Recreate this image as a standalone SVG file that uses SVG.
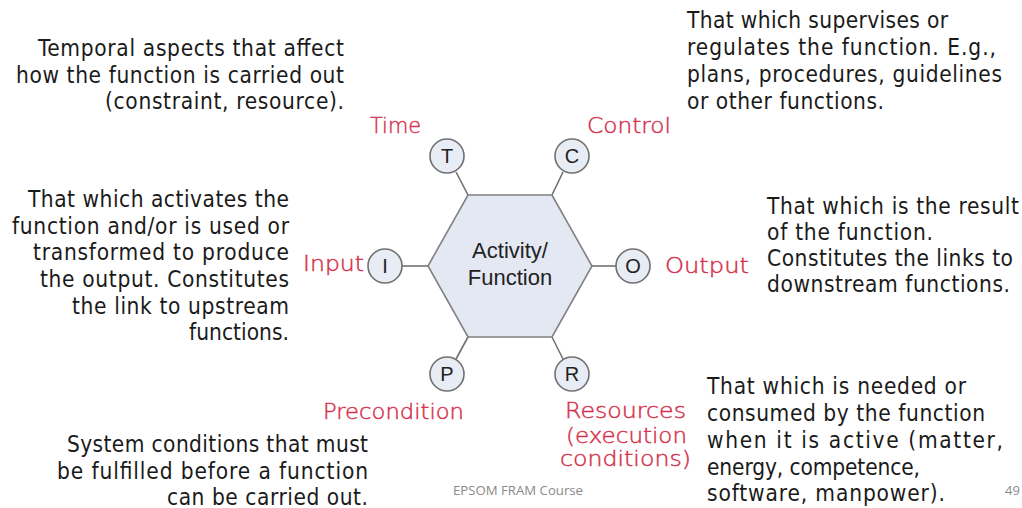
<svg xmlns="http://www.w3.org/2000/svg" width="1022" height="508" viewBox="0 0 1022 508">
  <style>
    .desc { font-family: "DejaVu Sans", "Liberation Sans", sans-serif; font-stretch: condensed; font-size: 22.5px; fill: #1a1a1a; }
    .r { text-anchor: end; }
    .hand { font-family: "DejaVu Sans", "Liberation Sans", sans-serif; font-weight: 200; font-size: 22px; fill: #d62f4b; stroke: #d62f4b; stroke-width: 0.45; }
    .hex { fill: #e3e8f3; stroke: #808080; stroke-width: 1.6; }
    .port { fill: #e8ecf5; stroke: #707070; stroke-width: 1.6; }
    .port-label { font-family: "Liberation Sans", Arial, sans-serif; font-size: 20px; fill: #222; text-anchor: middle; }
    .center-label { font-family: "Liberation Sans", Arial, sans-serif; font-size: 22px; fill: #222; text-anchor: middle; }
    .link { stroke: #707070; stroke-width: 1.6; fill: none; }
    .footer { font-family: "Open Sans", "Liberation Sans", sans-serif; font-size: 13px; fill: #8a8a8a; }
  </style>
  <rect width="1022" height="508" fill="#ffffff"/>

  <!-- connectors between the hexagon corners and the aspect ports -->
  <g id="connectors">
    <line class="link" x1="468" y1="195" x2="456" y2="172"/>
    <line class="link" x1="552" y1="195" x2="563" y2="172"/>
    <line class="link" x1="428" y1="266" x2="402" y2="266"/>
    <line class="link" x1="592" y1="266" x2="616" y2="266"/>
    <line class="link" x1="468" y1="337" x2="456" y2="359"/>
    <line class="link" x1="552" y1="337" x2="563" y2="359"/>
  </g>

  <!-- central function -->
  <g id="function">
    <polygon class="hex" points="468,195 552,195 592,266 552,337 468,337 428,266"/>
    <text class="center-label" x="510" y="258">Activity/</text>
    <text class="center-label" x="510" y="285">Function</text>
  </g>

  <!-- aspect ports -->
  <g id="port-time">
    <circle class="port" cx="447" cy="156" r="17"/>
    <text class="port-label" x="447" y="163">T</text>
    <text class="hand" x="370" y="133" textLength="51" lengthAdjust="spacingAndGlyphs">Time</text>
  </g>
  <g id="port-control">
    <circle class="port" cx="572" cy="156" r="17"/>
    <text class="port-label" x="572" y="163">C</text>
    <text class="hand" x="587" y="133" textLength="84" lengthAdjust="spacingAndGlyphs">Control</text>
  </g>
  <g id="port-input">
    <circle class="port" cx="385" cy="266" r="17"/>
    <text class="port-label" x="385" y="273">I</text>
    <text class="hand" x="303" y="271" textLength="61" lengthAdjust="spacingAndGlyphs">Input</text>
  </g>
  <g id="port-output">
    <circle class="port" cx="633" cy="266" r="17"/>
    <text class="port-label" x="633" y="273">O</text>
    <text class="hand" x="665" y="273" textLength="84" lengthAdjust="spacingAndGlyphs">Output</text>
  </g>
  <g id="port-precondition">
    <circle class="port" cx="447" cy="374" r="17"/>
    <text class="port-label" x="447" y="381">P</text>
    <text class="hand" x="323" y="419" textLength="141" lengthAdjust="spacingAndGlyphs">Precondition</text>
  </g>
  <g id="port-resources">
    <circle class="port" cx="572" cy="374" r="17"/>
    <text class="port-label" x="572" y="381">R</text>
    <text class="hand" x="565" y="418" textLength="121" lengthAdjust="spacingAndGlyphs">Resources</text>
    <text class="hand" x="566" y="443" textLength="121" lengthAdjust="spacingAndGlyphs">(execution</text>
    <text class="hand" x="560" y="466" textLength="131" lengthAdjust="spacingAndGlyphs">conditions)</text>
  </g>

  <!-- explanatory notes -->
  <g id="note-time">
    <text class="desc r" x="344" y="56" textLength="306" lengthAdjust="spacing">Temporal aspects that affect</text>
    <text class="desc r" x="344" y="83" textLength="328" lengthAdjust="spacing">how the function is carried out</text>
    <text class="desc r" x="344" y="109" textLength="239" lengthAdjust="spacing">(constraint, resource).</text>
  </g>
  <g id="note-control">
    <text class="desc" x="687" y="28" textLength="261" lengthAdjust="spacing">That which supervises or</text>
    <text class="desc" x="687" y="55" textLength="309" lengthAdjust="spacing">regulates the function. E.g.,</text>
    <text class="desc" x="687" y="82" textLength="315" lengthAdjust="spacing">plans, procedures, guidelines</text>
    <text class="desc" x="687" y="109" textLength="197" lengthAdjust="spacing">or other functions.</text>
  </g>
  <g id="note-input">
    <text class="desc r" x="289" y="207" textLength="261" lengthAdjust="spacing">That which activates the</text>
    <text class="desc r" x="289" y="234" textLength="277" lengthAdjust="spacing">function and/or is used or</text>
    <text class="desc r" x="289" y="260" textLength="256" lengthAdjust="spacing">transformed to produce</text>
    <text class="desc r" x="289" y="287" textLength="249" lengthAdjust="spacing">the output. Constitutes</text>
    <text class="desc r" x="289" y="314" textLength="217" lengthAdjust="spacing">the link to upstream</text>
    <text class="desc r" x="289" y="340" textLength="100" lengthAdjust="spacing">functions.</text>
  </g>
  <g id="note-output">
    <text class="desc" x="767" y="214" textLength="252" lengthAdjust="spacing">That which is the result</text>
    <text class="desc" x="767" y="240" textLength="166" lengthAdjust="spacing">of the function.</text>
    <text class="desc" x="767" y="266" textLength="246" lengthAdjust="spacing">Constitutes the links to</text>
    <text class="desc" x="767" y="292" textLength="243" lengthAdjust="spacing">downstream functions.</text>
  </g>
  <g id="note-resources">
    <text class="desc" x="707" y="394" textLength="259" lengthAdjust="spacing">That which is needed or</text>
    <text class="desc" x="707" y="421" textLength="278" lengthAdjust="spacing">consumed by the function</text>
    <text class="desc" x="707" y="448" textLength="296" lengthAdjust="spacing">when it is active (matter,</text>
    <text class="desc" x="707" y="475" textLength="213" lengthAdjust="spacing">energy, competence,</text>
    <text class="desc" x="707" y="501" textLength="238" lengthAdjust="spacing">software, manpower).</text>
  </g>
  <g id="note-precondition">
    <text class="desc r" x="368" y="452" textLength="301" lengthAdjust="spacing">System conditions that must</text>
    <text class="desc r" x="368" y="479" textLength="311" lengthAdjust="spacing">be fulfilled before a function</text>
    <text class="desc r" x="368" y="505" textLength="201" lengthAdjust="spacing">can be carried out.</text>
  </g>

  <!-- footer -->
  <g id="footer">
    <text class="footer" x="453" y="495" textLength="130" lengthAdjust="spacingAndGlyphs">EPSOM FRAM Course</text>
    <text class="footer" x="1005" y="495">49</text>
  </g>
</svg>
